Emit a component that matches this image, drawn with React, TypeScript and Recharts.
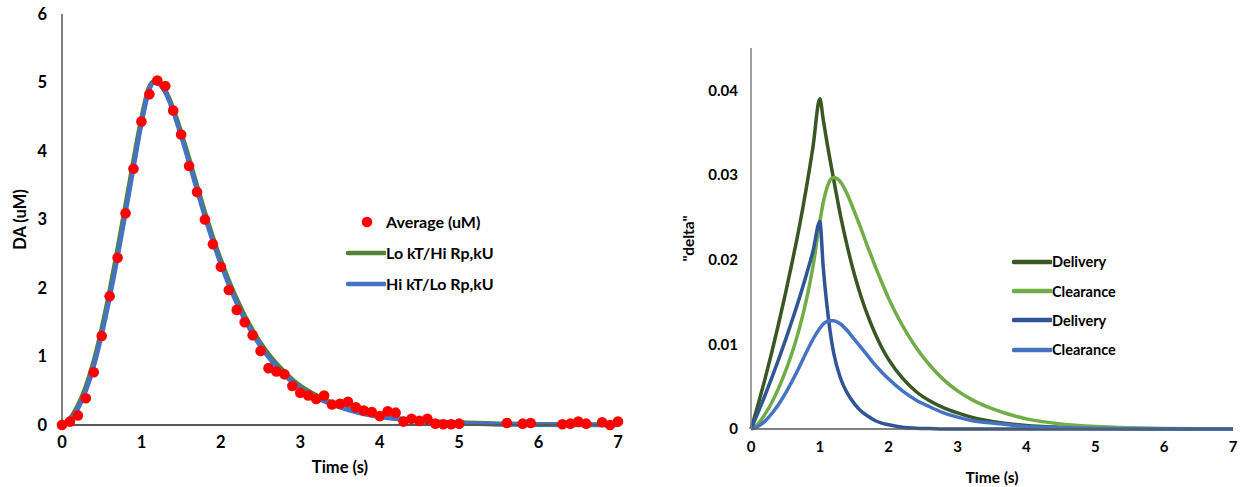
import React from 'react';
import { ComposedChart, Line, Scatter, XAxis, YAxis, Legend } from 'recharts';

// Measured DA trace (uM), one sample every 0.1 s where visible
const AVG_T = [
  0, 0.1, 0.2, 0.3, 0.4, 0.5, 0.6, 0.7, 0.8, 0.9, 1.0, 1.1, 1.2, 1.3, 1.4, 1.5, 1.6, 1.7, 1.8, 1.9,
  2.0, 2.1, 2.2, 2.3, 2.4, 2.5, 2.6, 2.7, 2.8, 2.9, 3.0, 3.1, 3.2, 3.3, 3.4, 3.5, 3.6, 3.7, 3.8, 3.9,
  4.0, 4.1, 4.2, 4.3, 4.4, 4.5, 4.6, 4.7, 4.8, 4.9, 5.0, 5.6, 5.8, 5.9, 6.3, 6.4, 6.5, 6.6, 6.8, 6.9, 7.0,
];
const AVG_UM = [
  0, 0.05, 0.14, 0.39, 0.77, 1.3, 1.88, 2.44, 3.09, 3.74, 4.43, 4.83, 5.03, 4.95, 4.59, 4.24, 3.78, 3.4, 3.0, 2.64,
  2.31, 1.97, 1.68, 1.5, 1.31, 1.08, 0.83, 0.78, 0.74, 0.57, 0.47, 0.43, 0.38, 0.43, 0.3, 0.31, 0.34, 0.26, 0.21, 0.19,
  0.13, 0.2, 0.18, 0.05, 0.09, 0.06, 0.09, 0.02, 0.01, 0.01, 0.02, 0.03, 0.02, 0.03, 0.01, 0.02, 0.05, 0.02, 0.04, 0.0, 0.05,
];

// Model fits
const FIT_T = [
  0, 0.1, 0.2, 0.3, 0.4, 0.5, 0.6, 0.7, 0.8, 0.9, 1.0, 1.1, 1.15, 1.2, 1.3, 1.4, 1.5, 1.6, 1.7, 1.8, 1.9,
  2.0, 2.1, 2.2, 2.3, 2.4, 2.5, 2.6, 2.7, 2.8, 2.9, 3.0, 3.2, 3.4, 3.6, 3.8, 4.0, 4.2, 4.4, 4.6, 4.8, 5.0,
  5.5, 6.0, 6.5, 7.0,
];
const FIT_LO_KT = [
  0, 0.09, 0.28, 0.55, 0.92, 1.39, 1.94, 2.55, 3.19, 3.84, 4.46, 4.93, 5.01, 5.0, 4.88, 4.61, 4.26, 3.88, 3.48, 3.09, 2.73,
  2.4, 2.1, 1.83, 1.59, 1.38, 1.19, 1.03, 0.89, 0.77, 0.66, 0.57, 0.43, 0.32, 0.24, 0.18, 0.13, 0.1, 0.075, 0.056, 0.042, 0.032,
  0.016, 0.008, 0.004, 0.002,
];
const FIT_HI_KT = [
  0, 0.07, 0.24, 0.5, 0.86, 1.32, 1.86, 2.46, 3.1, 3.76, 4.4, 4.9, 5.0, 4.99, 4.86, 4.58, 4.22, 3.83, 3.43, 3.04, 2.68,
  2.35, 2.05, 1.78, 1.54, 1.33, 1.15, 0.99, 0.85, 0.73, 0.63, 0.54, 0.4, 0.3, 0.22, 0.16, 0.12, 0.09, 0.065, 0.048, 0.035, 0.026,
  0.012, 0.006, 0.003, 0.002,
];

// "delta" components
const DELTA_T = [
  0, 0.1, 0.2, 0.3, 0.4, 0.5, 0.6, 0.7, 0.8, 0.9, 1.0, 1.05, 1.1, 1.15, 1.2, 1.3, 1.4, 1.5, 1.6, 1.7, 1.8, 1.9,
  2.0, 2.2, 2.4, 2.6, 2.8, 3.0, 3.2, 3.5, 4.0, 4.5, 5.0, 5.5, 6.0, 7.0,
];
const DELIVERY_LO = [
  0, 0.0028, 0.0058, 0.009, 0.0124, 0.016, 0.0198, 0.0238, 0.0283, 0.0333, 0.039, 0.0365, 0.034, 0.0317, 0.0295, 0.0252,
  0.0215, 0.0183, 0.0156, 0.0133, 0.0113, 0.0096, 0.0082, 0.006, 0.0044, 0.0033, 0.0025, 0.0019, 0.0014, 0.0009, 0.0004,
  0.0002, 0.0001, 0.00004, 0.00002, 0,
];
const CLEARANCE_LO = [
  0, 0.0006, 0.0017, 0.0031, 0.0048, 0.0068, 0.0091, 0.0118, 0.0151, 0.0192, 0.0245, 0.0268, 0.0284, 0.0294, 0.0297, 0.0292,
  0.0277, 0.0257, 0.0236, 0.0214, 0.0193, 0.0173, 0.0154, 0.0122, 0.0096, 0.0075, 0.0058, 0.0045, 0.0035, 0.0024, 0.0012,
  0.0006, 0.0003, 0.00015, 0.00007, 0,
];
const DELIVERY_HI = [
  0, 0.0019, 0.0039, 0.006, 0.0082, 0.0105, 0.0129, 0.0154, 0.0181, 0.021, 0.0245, 0.019, 0.0148, 0.0115, 0.009, 0.006,
  0.0042, 0.003, 0.0021, 0.0015, 0.001, 0.0007, 0.0005, 0.0002, 0.0001, 0.00005, 0, 0, 0, 0, 0, 0, 0, 0, 0, 0,
];
const CLEARANCE_HI = [
  0, 0.0003, 0.0009, 0.0018, 0.0029, 0.0042, 0.0057, 0.0073, 0.009, 0.0106, 0.0119, 0.0124, 0.0127, 0.0128, 0.0128, 0.0124,
  0.0116, 0.0106, 0.0096, 0.0086, 0.0076, 0.0067, 0.0059, 0.0045, 0.0034, 0.0026, 0.0019, 0.0014, 0.001, 0.0007, 0.0003,
  0.00015, 0.00007, 0.00003, 0, 0,
];

const TIME_TICKS = [0, 1, 2, 3, 4, 5, 6, 7];
const DA_TICKS = [0, 1, 2, 3, 4, 5, 6];
const DELTA_TICKS = [0, 0.01, 0.02, 0.03, 0.04];

const zip = (t: number[], v: number[]) => t.map((x, i) => ({ t: x, v: v[i] }));

const avgData = zip(AVG_T, AVG_UM);
const loKtData = zip(FIT_T, FIT_LO_KT);
const hiKtData = zip(FIT_T, FIT_HI_KT);

const FONT = 'Lato, "Open Sans", sans-serif';

type Entry = { name: string; color: string; marker: 'dot' | 'line' };

const DA_LEGEND: Entry[] = [
  { name: 'Average (uM)', color: '#ff0000', marker: 'dot' },
  { name: 'Lo kT/Hi Rp,kU', color: '#548235', marker: 'line' },
  { name: 'Hi kT/Lo Rp,kU', color: '#4472c4', marker: 'line' },
];

const DELTA_SERIES: Entry[] = [
  { name: 'Delivery', color: '#385723', marker: 'line' },
  { name: 'Clearance', color: '#70ad47', marker: 'line' },
  { name: 'Delivery', color: '#2f5597', marker: 'line' },
  { name: 'Clearance', color: '#4472c4', marker: 'line' },
];
const DELTA_VALUES = [DELIVERY_LO, CLEARANCE_LO, DELIVERY_HI, CLEARANCE_HI];

// legend kept in series order (recharts sorts by name otherwise)
function makeLegend(items: Entry[], rowHeight: number, fontSize: number) {
  return () => (
    <div style={{ fontFamily: FONT, fontSize, fontWeight: 700, color: '#000' }}>
      {items.map((p, i) => (
        <div key={i} style={{ display: 'flex', alignItems: 'center', height: rowHeight }}>
          <svg width={40} height={12}>
            {p.marker === 'dot' ? (
              <circle cx={21} cy={6} r={5.3} fill={p.color} />
            ) : (
              <line x1={2} y1={6} x2={39} y2={6} stroke={p.color} strokeWidth={4.5} strokeLinecap="round" />
            )}
          </svg>
          <span>{p.name}</span>
        </div>
      ))}
    </div>
  );
}

function DaChart() {
  const tick = { fill: '#000', fontSize: 16.5, fontWeight: 700 };
  return (
    <ComposedChart width={640} height={487} margin={{ top: 14, right: 22, bottom: 12, left: 0 }}>
      <XAxis
        type="number"
        dataKey="t"
        domain={[0, 7]}
        ticks={TIME_TICKS}
        tick={tick}
        tickLine={false}
        tickSize={0}
        tickMargin={11}
        axisLine={{ stroke: '#595959', strokeWidth: 2 }}
        height={50}
        label={{ value: 'Time (s)', position: 'insideBottom', offset: 2, fill: '#000', fontSize: 16.5, fontWeight: 700 }}
      />
      <YAxis
        type="number"
        dataKey="v"
        domain={[0, 6]}
        ticks={DA_TICKS}
        tick={tick}
        tickLine={false}
        tickSize={0}
        tickMargin={15}
        axisLine={{ stroke: '#808080', strokeWidth: 2 }}
        width={62}
        label={{
          value: 'DA (uM)',
          angle: -90,
          position: 'insideLeft',
          offset: 20,
          style: { textAnchor: 'middle' },
          fill: '#000',
          fontSize: 16.5,
          fontWeight: 700,
        }}
      />
      <Legend
        layout="horizontal"
        align="center"
        verticalAlign="middle"
        wrapperStyle={{ left: 346, top: 206, width: 240 }}
        content={makeLegend(DA_LEGEND, 31, 16)}
      />
      <Line
        data={loKtData}
        dataKey="v"
        name={DA_LEGEND[1].name}
        type="monotone"
        stroke={DA_LEGEND[1].color}
        strokeWidth={5}
        dot={false}
        isAnimationActive={false}
      />
      <Line
        data={hiKtData}
        dataKey="v"
        name={DA_LEGEND[2].name}
        type="monotone"
        stroke={DA_LEGEND[2].color}
        strokeWidth={4.5}
        dot={false}
        isAnimationActive={false}
      />
      <Scatter
        data={avgData}
        dataKey="v"
        name={DA_LEGEND[0].name}
        fill="#ff0000"
        shape={(p: any) => <circle cx={p.cx} cy={p.cy} r={5.3} fill="#ff0000" />}
        isAnimationActive={false}
      />
    </ComposedChart>
  );
}

function DeltaChart() {
  const tick = { fill: '#000', fontSize: 15, fontWeight: 700 };
  return (
    <ComposedChart width={582} height={487} margin={{ top: 48, right: 9, bottom: 3, left: 0 }}>
      <XAxis
        type="number"
        dataKey="t"
        domain={[0, 7]}
        ticks={TIME_TICKS}
        tick={tick}
        tickLine={false}
        tickSize={0}
        tickMargin={12}
        axisLine={{ stroke: '#595959', strokeWidth: 1.5 }}
        height={55}
        label={{ value: 'Time (s)', position: 'insideBottom', offset: 1, fill: '#000', fontSize: 15.5, fontWeight: 700 }}
      />
      <YAxis
        type="number"
        domain={[0, 0.045]}
        ticks={DELTA_TICKS}
        tick={tick}
        tickLine={false}
        tickSize={0}
        tickMargin={13}
        axisLine={{ stroke: '#808080', strokeWidth: 1.5 }}
        width={91}
        label={{
          value: '"delta"',
          angle: -90,
          position: 'insideLeft',
          offset: 28,
          style: { textAnchor: 'middle' },
          fill: '#000',
          fontSize: 15.5,
          fontWeight: 700,
        }}
      />
      <Legend
        layout="horizontal"
        align="center"
        verticalAlign="middle"
        wrapperStyle={{ left: 352, top: 247, width: 150 }}
        content={makeLegend(DELTA_SERIES, 29.4, 14.5)}
      />
      {DELTA_SERIES.map((s, i) => (
        <Line
          key={i}
          data={zip(DELTA_T, DELTA_VALUES[i])}
          dataKey="v"
          name={s.name}
          type="monotone"
          stroke={s.color}
          strokeWidth={3.5}
          dot={false}
          isAnimationActive={false}
        />
      ))}
    </ComposedChart>
  );
}

export default function App() {
  return (
    <div
      style={{
        position: 'absolute',
        left: 0,
        top: 0,
        width: 1242,
        height: 487,
        background: '#fff',
        fontFamily: FONT,
      }}
    >
      <div style={{ position: 'absolute', left: 0, top: 0 }}>
        <DaChart />
      </div>
      <div style={{ position: 'absolute', left: 660, top: 0 }}>
        <DeltaChart />
      </div>
    </div>
  );
}
